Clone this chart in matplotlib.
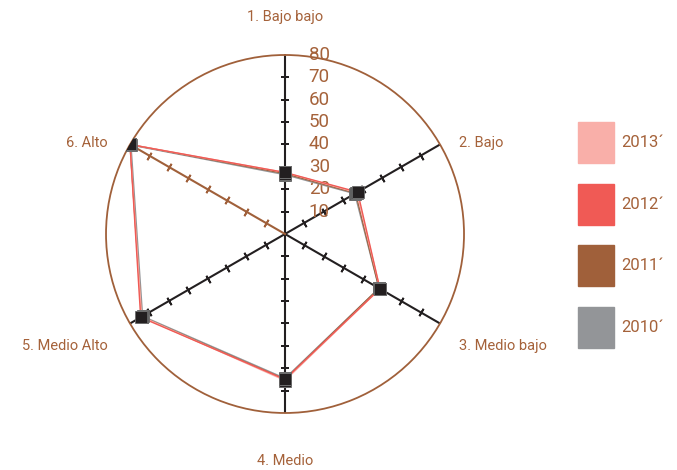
import matplotlib
matplotlib.use("Agg")
import matplotlib.pyplot as plt
import numpy as np
from matplotlib.patches import Rectangle
from matplotlib.markers import MarkerStyle

# categories and series values
categories = ["1. Bajo bajo", "2. Bajo", "3. Medio bajo", "4. Medio", "5. Medio Alto", "6. Alto"]
years = ["2013´", "2012´", "2011´", "2010´"]
v2013 = [27.5, 37, 49, 65.5, 74, 80]
v2012 = [27.5, 37.5, 49, 65, 74.5, 80]
v2011 = [27, 36.5, 48.5, 65, 74, 80]
v2010 = [26.5, 36, 48.5, 64.5, 73.5, 79.5]
rticks = [10, 20, 30, 40, 50, 60, 70, 80]

colors = {"2013´": "#F9AFA9", "2012´": "#F05A55", "2011´": "#A0603A", "2010´": "#939598"}
series = {"2013´": v2013, "2012´": v2012, "2011´": v2011, "2010´": v2010}
brown = "#A5623A"

plt.rcParams['font.family'] = ['Roboto', 'DejaVu Sans']

fig = plt.figure(figsize=(6.77, 4.70), dpi=100)
ax = fig.add_axes([0.1566, 0.1213, 0.5288, 0.7617], projection="polar")
ax.set_theta_zero_location("N")
ax.set_theta_direction(-1)
ax.set_ylim(0, 80)
ax.grid(False)
ax.set_xticks([])
ax.set_yticks([])
ax.spines["polar"].set_color("#A0603A")
ax.spines["polar"].set_linewidth(1.3)

n = len(categories)
theta = np.arange(n) * 2 * np.pi / n

# axes with perpendicular ticks
for i, t in enumerate(theta):
    c = "#A0603A" if i == 5 else "#231F20"
    ax.plot([t, t], [0, 80], color=c, lw=1.5, zorder=2)
    rot = 90 - np.degrees(t)
    ax.plot([t] * 7, rticks[:-1], ls="none", marker=MarkerStyle((2, 2, rot)),
            ms=6, mew=1.3, mec=c, zorder=2)

# radial labels
for v in rticks:
    ax.annotate(str(v), xy=(0, v), xytext=(17, 0), textcoords="offset points",
                ha="left", va="center", fontsize=13.5, color=brown)

# series
order = ["2010´", "2011´", "2013´", "2012´"]
tt = np.append(theta, theta[0])
for y in order:
    vals = series[y]
    ax.plot(tt, vals + vals[:1], color=colors[y], lw=1.0, zorder=3)
for y in order:
    ax.plot(theta, series[y], ls="none", marker="s", ms=8.5,
            mfc="#231F20", mec="#6d6d6d", mew=0.6, zorder=4)

# category labels, offset (pixels) from the end of each axis
label_off = [(0, 38, "center"), (19, 1.5, "left"), (19, -22.5, "left"),
             (0, -48, "center"), (-22, -22.5, "right"), (-22, 1.5, "right")]
for t, name, (dx, dy, ha) in zip(theta, categories, label_off):
    ax.annotate(name, xy=(t, 80), xytext=(dx * 0.72, dy * 0.72), textcoords="offset points",
                ha=ha, va="center", fontsize=10.5, color=brown, annotation_clip=False)

# legend
for k, y in enumerate(years):
    top = 122 + k * 61.7
    fig.add_artist(Rectangle((578 / 677, 1 - (top + 41) / 470), 36 / 677, 41 / 470,
                             transform=fig.transFigure, color=colors[y]))
    fig.text(621 / 677, 1 - (top + 20.5) / 470, y, ha="left", va="center",
             fontsize=12, color=brown)

fig.savefig("out.png", dpi=100)
